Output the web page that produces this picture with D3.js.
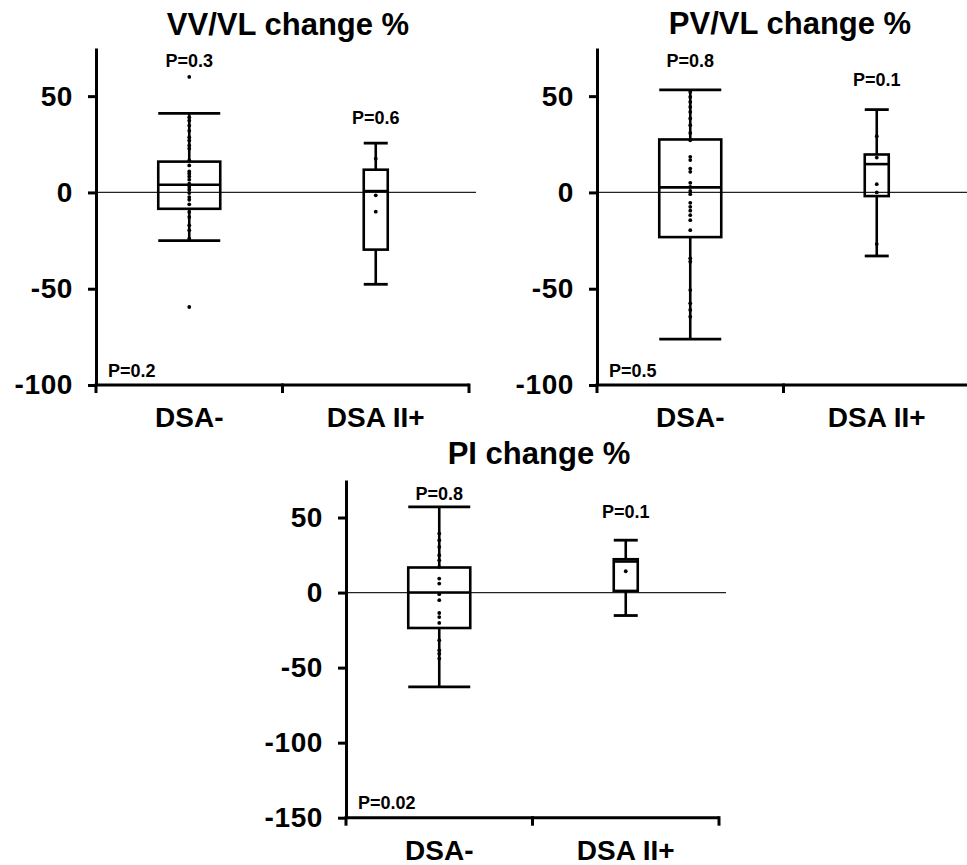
<!DOCTYPE html>
<html>
<head>
<meta charset="utf-8">
<script src="https://cdn.jsdelivr.net/npm/d3@7"></script>
<style>
  html, body { margin: 0; padding: 0; background: #fff; }
  svg text { font-family: "Liberation Sans", Arial, Helvetica, sans-serif; font-weight: bold; fill: #000; }
</style>
</head>
<body>
<svg id="chart" width="967" height="865"></svg>
<script>
// ---------------- DATA ----------------
const categories = ["DSA-", "DSA II+"];
const titles = ["VV/VL change %", "PV/VL change %", "PI change %"];
const yTicksTop = [-100, -50, 0, 50];
const yTicksBottom = [-150, -100, -50, 0, 50];

// box stats per group: [lower whisker, Q1, median, Q3, upper whisker]
const vvStats = [[-25, -8.5, 4, 16, 41], [-47.7, -29.7, 0.7, 11.8, 25.6]];
const pvStats = [[-76.2, -23.2, 2.6, 27.5, 53.3], [-33, -1.9, 14.7, 19.7, 43]];
const piStats = [[-62.9, -23.6, 0, 16.7, 57.1], [-15.3, 1.1, 20.7, 22.2, 34.9]];

// individual observations
const vvPointsDsaNeg = [60, 39, 37.3, 34.7, 32, 28.7, 27, 24.4, 22.7, 16.6, 14, 10.9, 9.7, 8.3, 6.6, 4.5, 2.8, 1.4, -0.3, -2.4, -3.8, -6.2, -10.2, -12.8, -17.1, -19.7, -24, -59.5];
const vvPointsDsaPos = [17.5, -1.5, -10];
const pvPointsDsaNeg = [52.2, 49.6, 47, 44.4, 41.8, 38.4, 34.9, 30.9, 27.1, 18.5, 16.8, 12.4, 10.7, 5, 2.9, 0.8, -0.9, -5.4, -7.5, -9.5, -11.8, -14.4, -19.6, -34.2, -36, -50.7, -57.6, -61, -64.5];
const pvPointsDsaPos = [29.2, 18.1, 4.3, 0, -26.8];
const piPointsDsaNeg = [39.3, 34.9, 30.4, 24.9, 21.5, 17.1, 9.3, 6, -1.1, -5.1, -13.6, -16.3, -20.2, -31.8, -38.5, -40.7, -44];
const piPointsDsaPos = [14.2];

// p-value annotations
const vvGroupP = ["P=0.3", "P=0.6"];
const pvGroupP = ["P=0.8", "P=0.1"];
const piGroupP = ["P=0.8", "P=0.1"];
const overallP = ["P=0.2", "P=0.5", "P=0.02"];

// ---------------- LAYOUT ----------------
const panels = [
  { x0: 96, x1: 469, yTop: 48, yBot: 385, domain: [-100, 75], ticks: yTicksTop, title: titles[0], titleX: 288, titleY: 35,
    stats: vvStats, points: [vvPointsDsaNeg, vvPointsDsaPos], groupP: vvGroupP, groupPAt: [65.1, 35.5], overall: overallP[0] },
  { x0: 597, x1: 970, yTop: 48, yBot: 385, domain: [-100, 75], ticks: yTicksTop, title: titles[1], titleX: 790, titleY: 34,
    stats: pvStats, points: [pvPointsDsaNeg, pvPointsDsaPos], groupP: pvGroupP, groupPAt: [65.3, 55.2], overall: overallP[1] },
  { x0: 346, x1: 719, yTop: 480, yBot: 817.7, domain: [-150, 75], ticks: yTicksBottom, title: titles[2], titleX: 539, titleY: 464,
    stats: piStats, points: [piPointsDsaNeg, piPointsDsaPos], groupP: piGroupP, groupPAt: [61.5, 49.5], overall: overallP[2] }
];
const boxWidths = [62, 24];

const svg = d3.select("#chart");

panels.forEach(p => {
  const g = svg.append("g");
  const y = d3.scaleLinear().domain(p.domain).range([p.yBot, p.yTop]);
  const x = d3.scaleBand().domain(categories).range([p.x0, p.x1]).padding(0);

  // title
  g.append("text").attr("x", p.titleX).attr("y", p.titleY).attr("text-anchor", "middle")
    .style("font-size", "31px").text(p.title);

  // zero reference line
  g.append("line").attr("x1", p.x0).attr("x2", p.x1 + 7).attr("y1", y(0)).attr("y2", y(0))
    .attr("stroke", "#222").attr("stroke-width", 1.2);

  // y axis
  const ya = g.append("g").attr("transform", `translate(${p.x0},0)`)
    .call(d3.axisLeft(y).tickValues(p.ticks).tickSize(8).tickSizeOuter(0).tickPadding(15).tickFormat(d => String(d)));
  ya.select(".domain").attr("stroke", "#000").attr("stroke-width", 3);
  ya.selectAll(".tick line").attr("stroke", "#000").attr("stroke-width", 3);
  ya.selectAll(".tick text").style("font-size", "28px").style("letter-spacing", "0.6px")
    .style("font-family", "'Liberation Sans', Arial, sans-serif").style("font-weight", "bold");

  // x axis line + boundary ticks
  g.append("line").attr("x1", p.x0).attr("x2", p.x1).attr("y1", p.yBot).attr("y2", p.yBot)
    .attr("stroke", "#000").attr("stroke-width", 3);
  const edges = [x(categories[0]), x(categories[1]), x(categories[1]) + x.bandwidth()];
  g.selectAll(".xtick").data(edges).enter().append("line")
    .attr("x1", d => d).attr("x2", d => d).attr("y1", p.yBot - 1.5).attr("y2", p.yBot + 8)
    .attr("stroke", "#000").attr("stroke-width", 3);
  g.selectAll(".xlab").data(categories).enter().append("text")
    .attr("x", d => x(d) + x.bandwidth() / 2).attr("y", p.yBot + 42).attr("text-anchor", "middle")
    .style("font-size", "28px").text(d => d);

  // boxes
  categories.forEach((c, i) => {
    const s = p.stats[i];
    const cx = x(c) + x.bandwidth() / 2;
    const w = boxWidths[i];
    const bg = g.append("g");
    // whiskers
    bg.append("line").attr("x1", cx).attr("x2", cx).attr("y1", y(s[3])).attr("y2", y(s[4])).attr("stroke", "#000").attr("stroke-width", 2.6);
    bg.append("line").attr("x1", cx).attr("x2", cx).attr("y1", y(s[1])).attr("y2", y(s[0])).attr("stroke", "#000").attr("stroke-width", 2.6);
    // caps
    [s[0], s[4]].forEach(v => {
      bg.append("line").attr("x1", cx - w / 2).attr("x2", cx + w / 2).attr("y1", y(v)).attr("y2", y(v))
        .attr("stroke", "#000").attr("stroke-width", 2.8);
    });
    // box
    bg.append("rect").attr("x", cx - w / 2).attr("width", w).attr("y", y(s[3])).attr("height", y(s[1]) - y(s[3]))
      .attr("fill", "none").attr("stroke", "#000").attr("stroke-width", 2.6);
    // median
    bg.append("line").attr("x1", cx - w / 2).attr("x2", cx + w / 2).attr("y1", y(s[2])).attr("y2", y(s[2]))
      .attr("stroke", "#000").attr("stroke-width", 2.6);
    // points
    bg.selectAll("circle").data(p.points[i]).enter().append("circle")
      .attr("cx", cx).attr("cy", d => y(d)).attr("r", 1.9).attr("fill", "#000");
    // group p value
    g.append("text").attr("x", cx).attr("y", y(p.groupPAt[i])).attr("text-anchor", "middle")
      .style("font-size", "18px").text(p.groupP[i]);
  });

  // overall p value
  g.append("text").attr("x", p.x0 + 12).attr("y", p.yBot - 8.5).style("font-size", "18px").text(p.overall);
});
</script>
</body>
</html>
